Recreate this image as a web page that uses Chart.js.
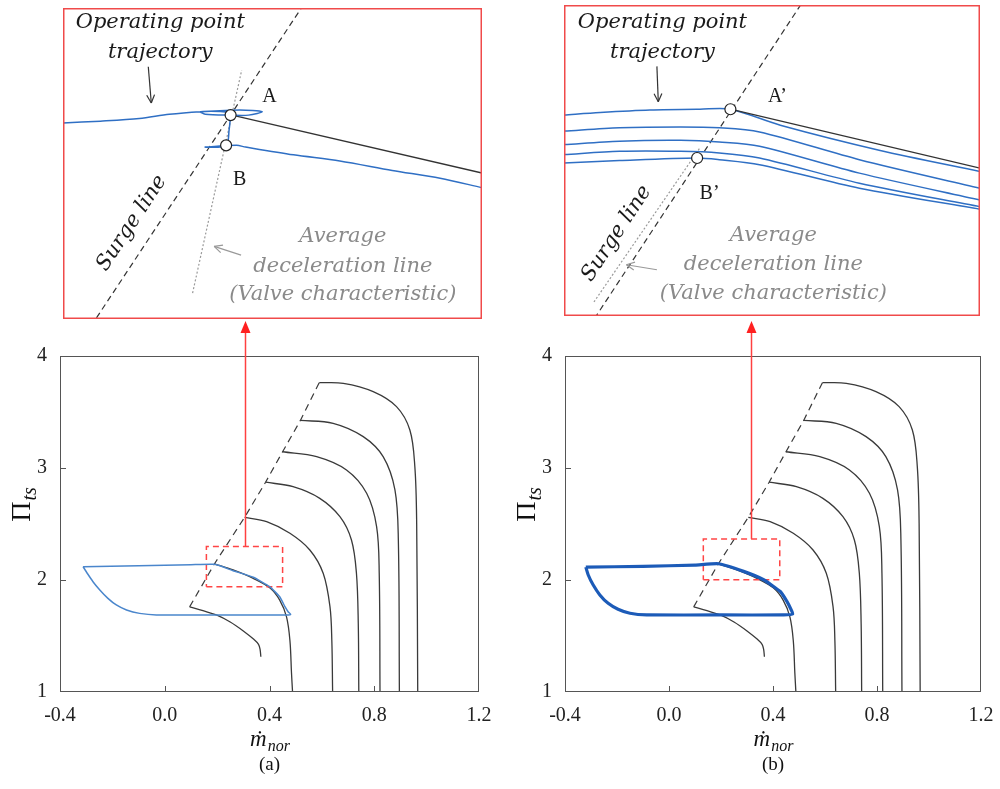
<!DOCTYPE html>
<html>
<head>
<meta charset="utf-8">
<script src="https://cdn.jsdelivr.net/npm/chart.js@4.4.0/dist/chart.umd.min.js"></script>
<style>
html, body { margin: 0; padding: 0; background: #fff; }
#wrap { position: relative; width: 1000px; height: 789px; overflow: hidden; }
canvas { position: absolute; }
</style>
</head>
<body>
<div id="wrap">
  <canvas id="mainA" width="500" height="489" style="left:0px;top:300px"></canvas>
  <canvas id="mainB" width="500" height="489" style="left:500px;top:300px"></canvas>
  <canvas id="zoomA" width="419" height="311" style="left:63px;top:8px"></canvas>
  <canvas id="zoomB" width="416" height="311" style="left:564px;top:5px"></canvas>
</div>
<script>
// ---- compressor map (same in both panels) ----
const xTicks = [-0.4, 0.0, 0.4, 0.8, 1.2];
const yTicks = [1, 2, 3, 4];

const surgeM = [0.095, 0.190, 0.305, 0.385, 0.450, 0.518, 0.590];
const surgeP = [1.76, 2.145, 2.56, 2.873, 3.145, 3.425, 3.762];

const speed1M = [0.095, 0.146, 0.197, 0.250, 0.300, 0.340, 0.358, 0.364, 0.367];
const speed1P = [1.76, 1.726, 1.688, 1.625, 1.545, 1.47, 1.426, 1.38, 1.315];
const speed2M = [0.190, 0.261, 0.338, 0.401, 0.439, 0.465, 0.478, 0.484, 0.488];
const speed2P = [2.145, 2.09, 2.015, 1.93, 1.82, 1.67, 1.46, 1.17, 1.0];
const speed3M = [0.305, 0.389, 0.478, 0.554, 0.605, 0.631, 0.638, 0.641];
const speed3P = [2.56, 2.521, 2.417, 2.268, 2.06, 1.76, 1.46, 1.0];
const speed4M = [0.385, 0.490, 0.592, 0.669, 0.713, 0.732, 0.739, 0.741];
const speed4P = [2.873, 2.833, 2.729, 2.565, 2.357, 2.06, 1.61, 1.0];
const speed5M = [0.450, 0.580, 0.694, 0.771, 0.809, 0.819, 0.822];
const speed5P = [3.145, 3.101, 2.982, 2.774, 2.476, 2.06, 1.0];
const speed6M = [0.518, 0.643, 0.758, 0.834, 0.879, 0.892, 0.896];
const speed6P = [3.425, 3.399, 3.28, 3.101, 2.804, 2.357, 1.0];
const speed7M = [0.590, 0.682, 0.796, 0.885, 0.936, 0.955, 0.962, 0.966];
const speed7P = [3.762, 3.756, 3.682, 3.548, 3.339, 3.012, 2.506, 1.0];

// surge cycles
const cycleAM = [-0.312, -0.1, 0.1, 0.191, 0.261, 0.338, 0.401, 0.439, 0.459, 0.471, 0.481, 0.465, 0.2, -0.032, -0.096, -0.146, -0.185, -0.217, -0.248, -0.274, -0.296, -0.312];
const cycleAP = [2.119, 2.128, 2.137, 2.140, 2.083, 2.024, 1.94, 1.85, 1.762, 1.717, 1.693, 1.688, 1.688, 1.688, 1.702, 1.732, 1.777, 1.836, 1.911, 1.985, 2.060, 2.119];
const cycleBM = [-0.320, -0.1, 0.1, 0.190, 0.287, 0.364, 0.428, 0.454, 0.467, 0.476, 0.441, 0.2, -0.086, -0.150, -0.196, -0.234, -0.266, -0.292, -0.311, -0.320];
const cycleBP = [2.115, 2.122, 2.133, 2.145, 2.077, 2.002, 1.897, 1.807, 1.748, 1.697, 1.688, 1.688, 1.688, 1.703, 1.739, 1.792, 1.867, 1.957, 2.047, 2.115];

// zoomed windows marked on the maps
const boxAM = [0.159, 0.450], boxAP = [1.94, 2.298];
const boxBM = [0.132, 0.426], boxBP = [2.002, 2.367];
const arrowAM = 0.305, arrowBM = 0.315;

// ---- inset (a) ----
const insASurgeM = [0.175, 0.325], insASurgeP = [1.922, 2.315];
const insAValveM = [0.2466, 0.2794], insAValveP = [1.970, 2.228];
const insASpeedM = [0.273, 0.440], insASpeedP = [2.176, 2.109];
const insATrajM = [0.160, 0.185, 0.211, 0.231, 0.252, 0.278, 0.293, 0.284, 0.272, 0.255, 0.252, 0.272, 0.272, 0.271, 0.269, 0.255, 0.276, 0.282, 0.314, 0.345, 0.380, 0.412, 0.440];
const insATrajP = [2.167, 2.169, 2.172, 2.177, 2.180, 2.182, 2.180, 2.176, 2.176, 2.177, 2.180, 2.179, 2.176, 2.159, 2.141, 2.139, 2.141, 2.139, 2.130, 2.123, 2.112, 2.103, 2.092];
const insAPointM = [0.272, 0.269], insAPointP = [2.176, 2.141];

// ---- inset (b) ----
const insBSurgeM = [0.148, 0.305], insBSurgeP = [1.987, 2.381];
const insBValveM = [0.1516, 0.228], insBValveP = [2.0167, 2.200];
const insBSpeedM = [0.250, 0.430], insBSpeedP = [2.246, 2.176];
const insBTraj1M = [0.130, 0.156, 0.192, 0.228, 0.250, 0.286, 0.358, 0.430];
const insBTraj1P = [2.239, 2.242, 2.245, 2.246, 2.246, 2.227, 2.197, 2.172];
const insBTraj2M = [0.130, 0.170, 0.214, 0.242, 0.271, 0.343, 0.430];
const insBTraj2P = [2.220, 2.224, 2.225, 2.224, 2.219, 2.186, 2.152];
const insBTraj3M = [0.130, 0.170, 0.214, 0.242, 0.271, 0.343, 0.430];
const insBTraj3P = [2.204, 2.208, 2.209, 2.207, 2.202, 2.170, 2.138];
const insBTraj4M = [0.130, 0.170, 0.214, 0.242, 0.271, 0.343, 0.430];
const insBTraj4P = [2.192, 2.196, 2.196, 2.194, 2.188, 2.158, 2.130];
const insBTraj5M = [0.130, 0.170, 0.226, 0.242, 0.271, 0.343, 0.430];
const insBTraj5P = [2.182, 2.185, 2.188, 2.186, 2.180, 2.152, 2.127];
const insBPointM = [0.250, 0.226], insBPointP = [2.246, 2.188];

// helpers
function pts(m, p) { return m.map((v, i) => ({ x: v, y: p[i] })); }
function lineDS(m, p, color, width, dash, tension) {
  return { data: pts(m, p), showLine: true, borderColor: color, borderWidth: width,
           borderDash: dash || [], pointRadius: 0, tension: tension || 0, fill: false };
}
function boxDS(bm, bp) {
  return lineDS([bm[0], bm[1], bm[1], bm[0], bm[0]], [bp[0], bp[0], bp[1], bp[1], bp[0]], '#ff4545', 1.5, [6, 4]);
}
function line(ctx, x1, y1, x2, y2) { ctx.beginPath(); ctx.moveTo(x1, y1); ctx.lineTo(x2, y2); ctx.stroke(); }
function arrowV(ctx, x1, y1, x2, y2, color) {
  ctx.strokeStyle = color; ctx.lineWidth = 1.2; ctx.setLineDash([]);
  line(ctx, x1, y1, x2, y2);
  const a = Math.atan2(y2 - y1, x2 - x1), L = 9;
  line(ctx, x2, y2, x2 - L * Math.cos(a - 0.45), y2 - L * Math.sin(a - 0.45));
  line(ctx, x2, y2, x2 - L * Math.cos(a + 0.45), y2 - L * Math.sin(a + 0.45));
}

const serif = '"Liberation Serif", "DejaVu Serif", serif';
const speedM = [speed1M, speed2M, speed3M, speed4M, speed5M, speed6M, speed7M];
const speedP = [speed1P, speed2P, speed3P, speed4P, speed5P, speed6P, speed7P];

function makeMain(id, cycM, cycP, cycColor, cycWidth, bm, bp, arrowM, caption, yWidth, rightPad) {
  const datasets = [lineDS(cycM, cycP, cycColor, cycWidth, [], 0.15), boxDS(bm, bp)];
  speedM.forEach((m, i) => datasets.push(lineDS(m, speedP[i], '#3a3a3a', 1.3, [], 0.35)));
  datasets.push(lineDS(surgeM, surgeP, '#3a3a3a', 1.2, [7, 5]));

  const decor = {
    id: 'decor',
    afterDraw(chart) {
      const { ctx, chartArea: a, scales: { x, y } } = chart;
      ctx.save();
      ctx.strokeStyle = '#555'; ctx.lineWidth = 1; ctx.setLineDash([]);
      ctx.strokeRect(a.left + 0.5, a.top + 0.5, a.right - a.left - 1, a.bottom - a.top - 1);
      xTicks.slice(1, -1).forEach(v => {
        const px = Math.round(x.getPixelForValue(v)) + 0.5;
        line(ctx, px, a.bottom, px, a.bottom - 6);
      });
      yTicks.slice(1, -1).forEach(v => {
        const py = Math.round(y.getPixelForValue(v)) + 0.5;
        line(ctx, a.left, py, a.left + 6, py);
      });
      // red pointer up to the inset
      const ax = Math.round(x.getPixelForValue(arrowM)) + 0.5;
      const ay = y.getPixelForValue(bp[1]);
      const tip = a.top - 35;
      ctx.strokeStyle = '#ff4040'; ctx.fillStyle = '#ff2020'; ctx.lineWidth = 1.5;
      line(ctx, ax, ay, ax, tip + 10);
      ctx.beginPath(); ctx.moveTo(ax, tip); ctx.lineTo(ax - 5, tip + 12); ctx.lineTo(ax + 5, tip + 12); ctx.closePath(); ctx.fill();
      // axis titles
      ctx.fillStyle = '#111';
      const cx = (a.left + a.right) / 2;
      ctx.textBaseline = 'alphabetic'; ctx.textAlign = 'left';
      ctx.font = 'italic 23px ' + serif;
      const w1 = ctx.measureText('ṁ').width;
      ctx.font = 'italic 16px ' + serif;
      const w2 = ctx.measureText('nor').width;
      const x0 = cx - (w1 + w2) / 2;
      ctx.font = 'italic 23px ' + serif;
      ctx.fillText('ṁ', x0, a.bottom + 54);
      ctx.font = 'italic 16px ' + serif;
      ctx.fillText('nor', x0 + w1 + 1, a.bottom + 59);
      ctx.font = '19px ' + serif; ctx.textAlign = 'center';
      ctx.fillText(caption, cx, a.bottom + 78);
      // y title
      ctx.save();
      ctx.translate(a.left - 38, (a.top + a.bottom) / 2 - 19);
      ctx.rotate(-Math.PI / 2);
      ctx.textAlign = 'left';
      ctx.font = '28px ' + serif;
      const wp = ctx.measureText('Π').width;
      ctx.font = 'italic 20px ' + serif;
      const wt = ctx.measureText('ts').width;
      ctx.font = '28px ' + serif;
      ctx.fillText('Π', -(wp + wt) / 2, 8);
      ctx.font = 'italic 20px ' + serif;
      ctx.fillText('ts', -(wp + wt) / 2 + wp + 1, 14);
      ctx.restore();
      ctx.restore();
    }
  };

  return new Chart(document.getElementById(id), {
    type: 'scatter',
    data: { datasets },
    options: {
      responsive: false, animation: false, devicePixelRatio: 1, events: [],
      layout: { autoPadding: false, padding: { top: 56, right: rightPad, left: 0, bottom: 0 } },
      plugins: { legend: { display: false }, tooltip: { enabled: false } },
      scales: {
        x: {
          min: -0.4, max: 1.2,
          afterBuildTicks: s => { s.ticks = xTicks.map(v => ({ value: v })); },
          afterFit: s => { s.height = 97; s.paddingLeft = 0; s.paddingRight = 0; },
          grid: { display: false, drawTicks: false }, border: { display: false },
          ticks: { padding: 12, color: '#222', font: { family: serif, size: 20 }, maxRotation: 0, autoSkip: false,
                   callback: v => Number(v).toFixed(1) }
        },
        y: {
          min: 1, max: 4,
          afterBuildTicks: s => { s.ticks = yTicks.map(v => ({ value: v })); },
          afterFit: s => { s.width = yWidth; s.paddingTop = 0; s.paddingBottom = 0; },
          grid: { display: false, drawTicks: false }, border: { display: false },
          ticks: { padding: 13, color: '#222', font: { family: serif, size: 20 }, callback: v => String(v) }
        }
      }
    },
    plugins: [decor]
  });
}

const insetFont = 'italic 21px "DejaVu Serif", serif';

function makeInset(id, xr, yr, datasets, ann) {
  const decor = {
    id: 'insetDecor',
    afterDraw(chart) {
      const { ctx, chartArea: a, scales: { x, y } } = chart;
      const X = v => x.getPixelForValue(v), Y = v => y.getPixelForValue(v);
      ctx.save();
      ctx.textAlign = 'center'; ctx.textBaseline = 'middle';
      ctx.fillStyle = '#1a1a1a'; ctx.font = insetFont;
      ann.black.forEach(t => ctx.fillText(t[0], X(t[1]), Y(t[2])));
      ctx.fillStyle = '#8a8a8a';
      ann.gray.forEach(t => ctx.fillText(t[0], X(t[1]), Y(t[2])));
      ctx.fillStyle = '#1a1a1a'; ctx.font = '20px ' + serif;
      ann.points.forEach(t => ctx.fillText(t[0], X(t[1]), Y(t[2])));
      // label along the surge line
      const sm = ann.surge[0], sp = ann.surge[1];
      const ang = Math.atan2(Y(sp[1]) - Y(sp[0]), X(sm[1]) - X(sm[0]));
      ctx.save();
      ctx.translate(X(ann.surgeLabel[0]), Y(ann.surgeLabel[1]));
      ctx.rotate(ang);
      ctx.fillStyle = '#1a1a1a'; ctx.font = insetFont;
      ctx.fillText('Surge line', 0, 0);
      ctx.restore();
      arrowV(ctx, X(ann.arrow[0]), Y(ann.arrow[1]), X(ann.arrow[2]), Y(ann.arrow[3]), '#333');
      arrowV(ctx, X(ann.grayArrow[0]), Y(ann.grayArrow[1]), X(ann.grayArrow[2]), Y(ann.grayArrow[3]), '#999');
      ctx.strokeStyle = '#f04a4a'; ctx.lineWidth = 1.5; ctx.setLineDash([]);
      ctx.strokeRect(a.left + 0.75, a.top + 0.75, a.right - a.left - 1.5, a.bottom - a.top - 1.5);
      ctx.restore();
    }
  };
  return new Chart(document.getElementById(id), {
    type: 'scatter',
    data: { datasets },
    options: {
      responsive: false, animation: false, devicePixelRatio: 1, events: [],
      layout: { autoPadding: false, padding: 0 },
      plugins: { legend: { display: false }, tooltip: { enabled: false } },
      scales: {
        x: { display: false, min: xr[0], max: xr[1] },
        y: { display: false, min: yr[0], max: yr[1] }
      }
    },
    plugins: [decor]
  });
}

function pointDS(m, p) {
  return { data: pts(m, p), showLine: false, pointRadius: 5.5, pointBackgroundColor: '#fff',
           pointBorderColor: '#222', pointBorderWidth: 1.2 };
}

makeMain('mainA', cycleAM, cycleAP, '#4a86cc', 1.5, boxAM, boxAP, arrowAM, '(a)', 60, 21);
makeMain('mainB', cycleBM, cycleBP, '#1c5bb8', 3.2, boxBM, boxBP, arrowBM, '(b)', 65, 19);

makeInset('zoomA', [0.16, 0.44], [1.94, 2.30], [
  pointDS(insAPointM, insAPointP),
  lineDS(insATrajM, insATrajP, '#2f6fc4', 1.5, [], 0.3),
  lineDS(insASpeedM, insASpeedP, '#333', 1.3),
  lineDS(insASurgeM, insASurgeP, '#333', 1.2, [6, 4]),
  lineDS(insAValveM, insAValveP, '#9a9a9a', 1.2, [2, 2])
], {
  black: [['Operating point', 0.225, 2.283], ['trajectory', 0.225, 2.248]],
  gray: [['Average', 0.347, 2.035], ['deceleration line', 0.347, 2.001], ['(Valve characteristic)', 0.347, 1.968]],
  points: [['A', 0.298, 2.197], ['B', 0.278, 2.101]],
  surge: [insASurgeM, insASurgeP], surgeLabel: [0.206, 2.051],
  arrow: [0.217, 2.232, 0.219, 2.190], grayArrow: [0.279, 2.014, 0.261, 2.024]
});

makeInset('zoomB', [0.13, 0.43], [2.00, 2.37], [
  pointDS(insBPointM, insBPointP),
  lineDS(insBSpeedM, insBSpeedP, '#333', 1.3),
  lineDS(insBTraj1M, insBTraj1P, '#2f6fc4', 1.5, [], 0.3),
  lineDS(insBTraj2M, insBTraj2P, '#2f6fc4', 1.5, [], 0.3),
  lineDS(insBTraj3M, insBTraj3P, '#2f6fc4', 1.5, [], 0.3),
  lineDS(insBTraj4M, insBTraj4P, '#2f6fc4', 1.5, [], 0.3),
  lineDS(insBTraj5M, insBTraj5P, '#2f6fc4', 1.5, [], 0.3),
  lineDS(insBSurgeM, insBSurgeP, '#333', 1.2, [6, 4]),
  lineDS(insBValveM, insBValveP, '#9a9a9a', 1.2, [2, 2])
], {
  black: [['Operating point', 0.201, 2.349], ['trajectory', 0.201, 2.313]],
  gray: [['Average', 0.281, 2.096], ['deceleration line', 0.281, 2.061], ['(Valve characteristic)', 0.281, 2.027]],
  points: [['A\u2019', 0.284, 2.261], ['B\u2019', 0.235, 2.146]],
  surge: [insBSurgeM, insBSurgeP], surgeLabel: [0.168, 2.098],
  arrow: [0.197, 2.297, 0.198, 2.255], grayArrow: [0.197, 2.055, 0.175, 2.061]
});
</script>
</body>
</html>
